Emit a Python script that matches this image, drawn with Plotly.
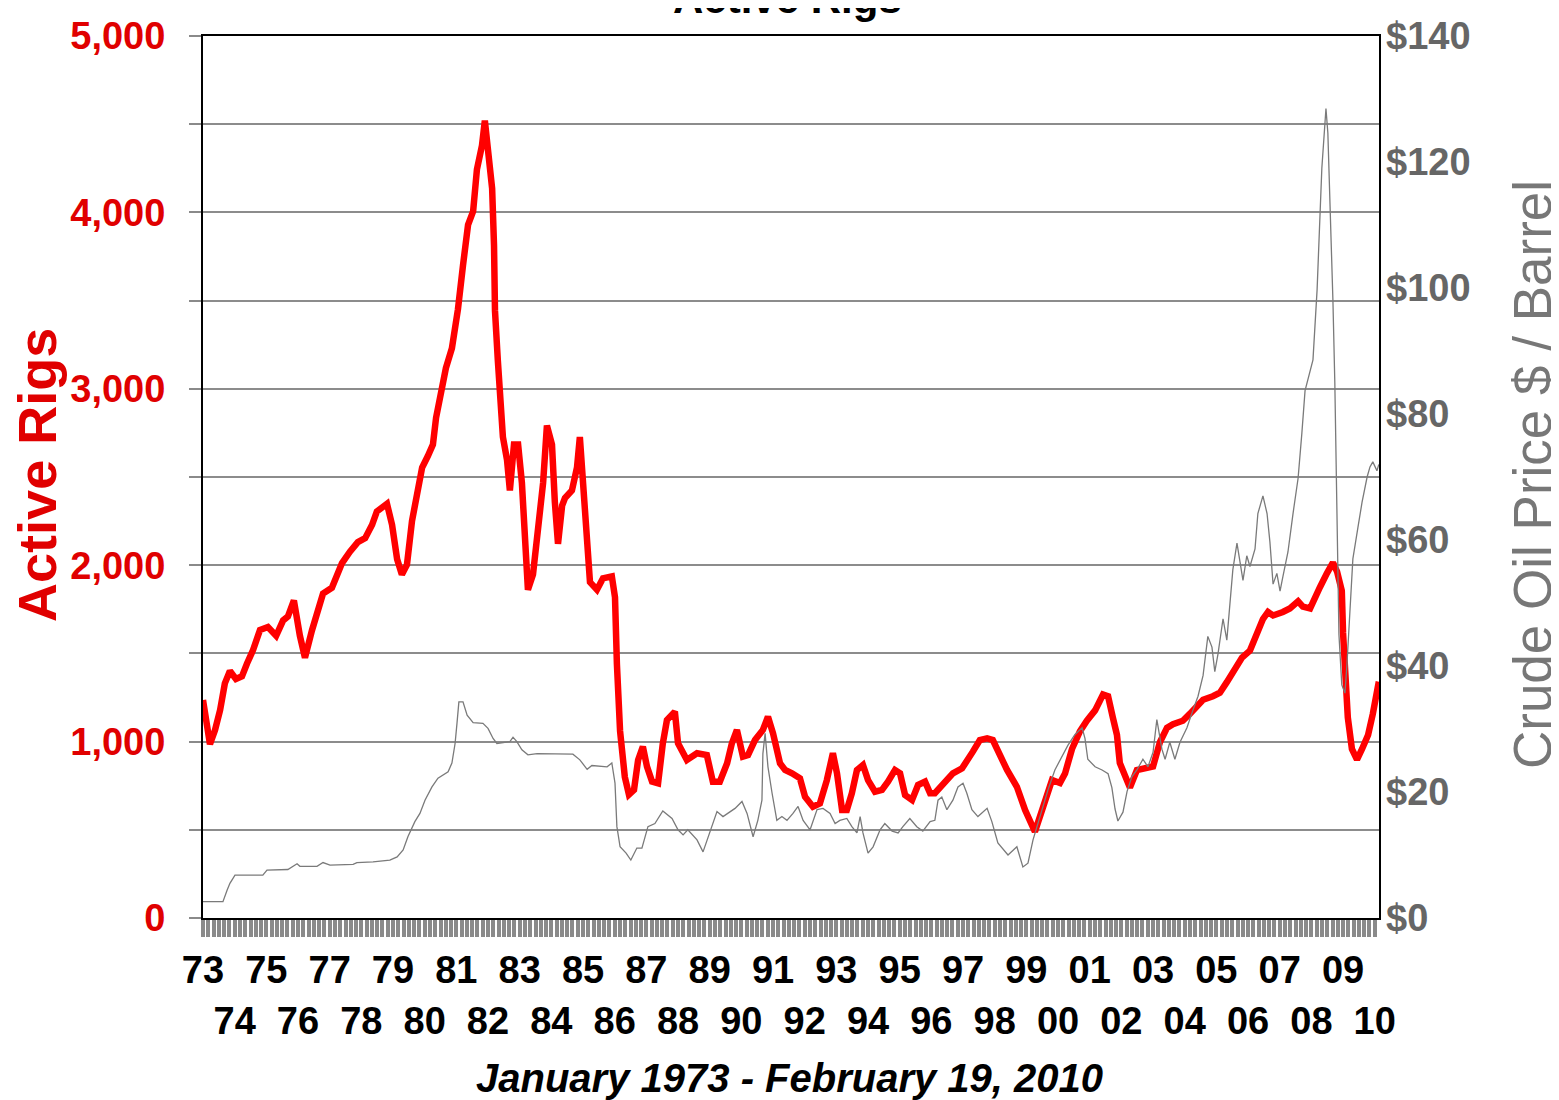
import plotly.graph_objects as go

# ---------------- data ----------------
# Active rigs (decimal year, count)
rig_years = [1973.00, 1973.22, 1973.38, 1973.54, 1973.69, 1973.85, 1974.04, 1974.23, 1974.39, 1974.58,
             1974.80, 1975.05, 1975.31, 1975.53, 1975.68, 1975.87, 1976.06, 1976.22, 1976.44, 1976.60,
             1976.79, 1977.07, 1977.26, 1977.39, 1977.64, 1977.89, 1978.12, 1978.34, 1978.49, 1978.81,
             1978.97, 1979.13, 1979.28, 1979.44, 1979.60, 1979.76, 1979.92, 1980.10, 1980.26, 1980.36,
             1980.55, 1980.67, 1980.86, 1981.05, 1981.21, 1981.37, 1981.53, 1981.65, 1981.81, 1981.90,
             1982.00, 1982.13, 1982.19, 1982.22, 1982.31, 1982.38, 1982.47, 1982.60, 1982.69, 1982.82,
             1982.95, 1983.07, 1983.17, 1983.26, 1983.42, 1983.58, 1983.74, 1983.86, 1984.02, 1984.11,
             1984.21, 1984.34, 1984.43, 1984.65, 1984.81, 1984.90, 1985.00, 1985.13, 1985.22, 1985.44,
             1985.63, 1985.91, 1986.01, 1986.07, 1986.17, 1986.32, 1986.45, 1986.61, 1986.74, 1986.89,
             1987.02, 1987.18, 1987.37, 1987.52, 1987.65, 1987.90, 1988.00, 1988.28, 1988.60, 1988.91,
             1989.10, 1989.32, 1989.55, 1989.70, 1989.86, 1990.05, 1990.21, 1990.43, 1990.68, 1990.84,
             1991.00, 1991.22, 1991.38, 1991.60, 1991.85, 1992.01, 1992.26, 1992.48, 1992.70, 1992.89,
             1993.02, 1993.18, 1993.33, 1993.49, 1993.65, 1993.84, 1994.00, 1994.22, 1994.44, 1994.63,
             1994.85, 1995.01, 1995.17, 1995.39, 1995.58, 1995.80, 1995.96, 1996.11, 1996.37, 1996.68,
             1996.97, 1997.16, 1997.31, 1997.53, 1997.76, 1997.94, 1998.17, 1998.39, 1998.70, 1998.96,
             1999.27, 1999.52, 1999.81, 2000.06, 2000.22, 2000.44, 2000.69, 2000.91, 2001.17, 2001.42,
             2001.58, 2001.73, 2001.86, 2001.95, 2002.18, 2002.27, 2002.49, 2002.81, 2003.00, 2003.22,
             2003.44, 2003.63, 2003.94, 2004.16, 2004.39, 2004.58, 2004.89, 2005.11, 2005.33, 2005.59,
             2005.81, 2006.06, 2006.28, 2006.47, 2006.63, 2006.79, 2007.10, 2007.32, 2007.58, 2007.73,
             2007.96, 2008.05, 2008.27, 2008.49, 2008.68, 2008.81, 2008.96, 2009.00, 2009.06, 2009.15,
             2009.28, 2009.44, 2009.60, 2009.79, 2009.94, 2010.13]
rig_counts = [1236, 985, 1066, 1179, 1330, 1400, 1355, 1370, 1443, 1519,
              1633, 1650, 1600, 1687, 1709, 1800, 1600, 1475, 1630, 1730,
              1839, 1872, 1947, 2012, 2077, 2131, 2153, 2229, 2305, 2348,
              2229, 2034, 1947, 2002, 2251, 2424, 2554, 2619, 2684, 2836,
              3031, 3117, 3230, 3450, 3700, 3930, 4006, 4244, 4380, 4520,
              4353, 4136, 3811, 3443, 3161, 2901, 2727, 2597, 2424, 2684,
              2684, 2467, 2034, 1861, 1947, 2207, 2467, 2792, 2684, 2359,
              2121, 2338, 2381, 2424, 2554, 2727, 2467, 2207, 1904, 1861,
              1926, 1937, 1818, 1440, 1060, 800, 700, 726, 896, 971,
              858, 773, 763, 990, 1122, 1170, 990, 896, 934, 924,
              773, 773, 877, 990, 1066, 915, 924, 1009, 1066, 1141,
              1047, 877, 839, 820, 792, 688, 631, 650, 782, 934,
              820, 612, 612, 707, 839, 867, 782, 716, 726, 773,
              839, 820, 697, 669, 754, 773, 707, 707, 754, 820,
              849, 896, 943, 1009, 1018, 1009, 915, 839, 744, 612,
              489, 631, 782, 765, 819, 958, 1058, 1118, 1177, 1267,
              1257, 1137, 1038, 879, 779, 739, 839, 849, 859, 998,
              1078, 1098, 1118, 1157, 1197, 1237, 1257, 1277, 1337, 1416,
              1476, 1516, 1616, 1695, 1735, 1715, 1735, 1755, 1795, 1765,
              1755, 1785, 1875, 1954, 2014, 1964, 1855, 1616, 1357, 1137,
              958, 898, 958, 1038, 1157, 1340]

# Crude oil price (decimal year, $ / barrel)
oil_years = [1973.00, 1973.63, 1973.76, 1973.85, 1974.01, 1974.89, 1975.02, 1975.68, 1975.97, 1976.06,
             1976.60, 1976.79, 1977.01, 1977.74, 1977.86, 1978.37, 1978.90, 1979.13, 1979.32, 1979.47,
             1979.69, 1979.85, 1980.01, 1980.23, 1980.42, 1980.74, 1980.86, 1980.96, 1981.02, 1981.08,
             1981.21, 1981.34, 1981.53, 1981.84, 1982.00, 1982.16, 1982.28, 1982.69, 1982.79, 1982.91,
             1983.07, 1983.26, 1983.55, 1984.68, 1984.90, 1985.13, 1985.28, 1985.76, 1985.91, 1986.01,
             1986.07, 1986.17, 1986.36, 1986.51, 1986.70, 1986.86, 1987.05, 1987.27, 1987.52, 1987.81,
             1988.00, 1988.16, 1988.31, 1988.60, 1988.79, 1989.01, 1989.23, 1989.42, 1989.58, 1989.80,
             1990.02, 1990.18, 1990.37, 1990.52, 1990.65, 1990.68, 1990.75, 1990.84, 1990.97, 1991.12,
             1991.28, 1991.44, 1991.63, 1991.79, 1991.95, 1992.17, 1992.39, 1992.58, 1992.80, 1992.96,
             1993.11, 1993.33, 1993.49, 1993.65, 1993.75, 1993.84, 1994.00, 1994.16, 1994.38, 1994.53,
             1994.76, 1994.95, 1995.10, 1995.32, 1995.54, 1995.73, 1995.96, 1996.11, 1996.21, 1996.33,
             1996.49, 1996.68, 1996.84, 1997.00, 1997.12, 1997.28, 1997.47, 1997.76, 1997.91, 1998.10,
             1998.42, 1998.70, 1998.89, 1999.05, 1999.21, 1999.43, 1999.68, 1999.90, 2000.12, 2000.31,
             2000.53, 2000.76, 2000.85, 2000.94, 2001.17, 2001.39, 2001.58, 2001.70, 2001.80, 2001.89,
             2002.05, 2002.18, 2002.33, 2002.49, 2002.68, 2002.84, 2003.00, 2003.12, 2003.28, 2003.38,
             2003.53, 2003.69, 2003.85, 2004.07, 2004.26, 2004.42, 2004.58, 2004.73, 2004.86, 2004.95,
             2005.05, 2005.21, 2005.33, 2005.43, 2005.52, 2005.65, 2005.74, 2005.84, 2005.96, 2006.06,
             2006.22, 2006.31, 2006.47, 2006.60, 2006.69, 2006.79, 2006.91, 2007.01, 2007.10, 2007.26,
             2007.42, 2007.58, 2007.70, 2007.80, 2008.05, 2008.18, 2008.33, 2008.46, 2008.52, 2008.59,
             2008.68, 2008.74, 2008.81, 2008.87, 2008.96, 2009.06, 2009.12, 2009.22, 2009.31, 2009.47,
             2009.60, 2009.76, 2009.85, 2009.94, 2010.07, 2010.13]
oil_prices = [2.6, 2.6, 4.4, 5.5, 6.8, 6.8, 7.6, 7.7, 8.6, 8.2,
              8.2, 8.8, 8.4, 8.5, 8.8, 8.9, 9.2, 9.7, 10.8, 12.9,
              15.3, 16.6, 18.7, 20.8, 22.2, 23.2, 24.6, 27.7, 30.9, 34.3,
              34.3, 32.2, 31.0, 30.9, 30.1, 28.5, 27.7, 28.0, 28.7, 28.0,
              26.7, 25.9, 26.1, 26.0, 25.1, 23.6, 24.2, 24.0, 24.6, 21.4,
              14.5, 11.3, 10.3, 9.2, 11.1, 11.1, 14.5, 15.0, 17.0, 15.8,
              14.0, 13.2, 14.0, 12.4, 10.5, 13.7, 16.9, 16.1, 16.6, 17.4,
              18.5, 16.6, 12.9, 15.5, 18.7, 26.1, 29.3, 24.0, 19.8, 15.5,
              16.1, 15.5, 16.6, 17.7, 15.5, 14.0, 17.2, 17.4, 16.6, 15.0,
              15.5, 15.8, 14.5, 13.5, 16.1, 13.5, 10.3, 11.3, 14.0, 15.0,
              13.8, 13.5, 14.5, 15.8, 14.5, 13.8, 15.3, 15.5, 18.7, 19.2,
              17.2, 18.7, 20.8, 21.4, 19.8, 17.2, 16.1, 17.4, 15.3, 11.9,
              10.0, 11.3, 8.1, 8.7, 12.4, 16.1, 20.3, 23.5, 25.6, 27.4,
              29.1, 30.2, 28.5, 25.2, 24.0, 23.5, 22.9, 20.7, 17.3, 15.4,
              16.8, 20.1, 22.4, 23.5, 25.2, 24.0, 26.3, 31.5, 26.8, 25.2,
              27.9, 25.2, 27.9, 30.2, 33.0, 35.2, 38.5, 44.7, 43.0, 39.1,
              41.9, 47.5, 44.1, 49.7, 55.3, 59.5, 57.0, 53.6, 57.5, 55.8,
              58.6, 64.2, 67.0, 64.2, 59.7, 53.0, 54.7, 51.9, 54.2, 58.1,
              64.2, 69.8, 77.0, 83.7, 88.6, 99.7, 119.0, 128.5, 124.6, 114.0,
              98.0, 85.0, 61.0, 45.0, 37.0, 35.7, 40.0, 48.0, 57.0, 62.0,
              66.0, 70.0, 71.6, 72.4, 71.0, 72.0]

odd_years = list(range(1973, 2011, 2))
odd_labels = ["%02d" % (y % 100) for y in odd_years]
even_years = list(range(1974, 2011, 2))
even_labels = ["%02d" % (y % 100) for y in even_years]

rig_ticks = [0, 500, 1000, 1500, 2000, 2500, 3000, 3500, 4000, 4500, 5000]
rig_labels = ["0", "", "1,000", "", "2,000", "", "3,000", "", "4,000", "", "5,000"]
price_ticks = [0, 20, 40, 60, 80, 100, 120, 140]
price_labels = ["$0", "$20", "$40", "$60", "$80", "$100", "$120", "$140"]

ARIAL = "Liberation Sans, Arial, sans-serif"
X_RANGE = [1973.0, 2010.135]

fig = go.Figure()
fig.add_trace(go.Scatter(x=rig_years, y=rig_counts, mode="lines", name="Active Rigs",
                         line=dict(color="#ff0000", width=6.5), xaxis="x", yaxis="y"))
fig.add_trace(go.Scatter(x=oil_years, y=oil_prices, mode="lines", name="Crude Oil Price",
                         line=dict(color="#7a7a7a", width=1.3), xaxis="x2", yaxis="y2"))

# page body has an 8px margin: compensate so the plot area lands at x 203-1379, y 36-918
fig.update_layout(
    width=1559, height=1100, autosize=False,
    margin=dict(l=195, r=188, t=28, b=190),
    paper_bgcolor="white", plot_bgcolor="white",
    showlegend=False,
    xaxis=dict(
        range=X_RANGE, tickmode="array", tickvals=odd_years, ticktext=odd_labels,
        ticks="outside", ticklen=17, tickwidth=3.5, tickcolor="#8a8a8a",
        minor=dict(dtick=1/6, tick0=1973, ticks="outside", ticklen=17, tickwidth=3.5,
                   tickcolor="#8a8a8a", showgrid=False),
        showgrid=False, zeroline=False, automargin=False,
        showline=True, linecolor="#000000", linewidth=2, mirror=True,
        tickfont=dict(family=ARIAL, size=38, color="#000000", weight="bold"),
        tickangle=0,
    ),
    xaxis2=dict(
        range=X_RANGE, overlaying="x", anchor="y", side="bottom",
        tickmode="array", tickvals=even_years, ticktext=even_labels,
        ticks="outside", ticklen=17, tickwidth=1, tickcolor="rgba(0,0,0,0)",
        ticklabelstandoff=52,
        showgrid=False, zeroline=False, showline=False, automargin=False,
        tickfont=dict(family=ARIAL, size=38, color="#000000", weight="bold"),
        tickangle=0,
    ),
    yaxis=dict(
        range=[0, 5000], tickmode="array", tickvals=rig_ticks, ticktext=rig_labels,
        ticks="outside", ticklen=12, tickwidth=2, tickcolor="#8a8a8a",
        ticklabelstandoff=16,
        showgrid=True, gridcolor="#8c8c8c", gridwidth=2, zeroline=False, automargin=False,
        showline=True, linecolor="#000000", linewidth=2, mirror=True,
        tickfont=dict(family=ARIAL, size=38, color="#e00000", weight="bold"),
    ),
    yaxis2=dict(
        range=[0, 140], overlaying="y", anchor="x2", side="right", tickmode="array",
        tickvals=price_ticks, ticktext=price_labels, ticks="",
        ticklabelstandoff=6,
        showgrid=False, zeroline=False, showline=False, automargin=False,
        tickfont=dict(family=ARIAL, size=38, color="#666666", weight="bold"),
    ),
    annotations=[
        dict(text="Active Rigs", xref="paper", yref="paper", x=-0.1412, y=0.5023,
             textangle=-90, showarrow=False, xanchor="center", yanchor="middle",
             font=dict(family=ARIAL, size=54, color="#e00000", weight="bold")),
        dict(text="Crude Oil Price $ / Barrel", xref="paper", yref="paper", x=1.1310, y=0.5023,
             textangle=-90, showarrow=False, xanchor="center", yanchor="middle",
             font=dict(family=ARIAL, size=53, color="#777777")),
        dict(text="<i>January 1973 - February 19, 2010</i>", xref="paper", yref="paper",
             x=0.499, y=-0.1814, showarrow=False, xanchor="center", yanchor="middle",
             font=dict(family=ARIAL, size=40, color="#000000", weight="bold")),
        dict(text="Active Rigs", xref="paper", yref="paper", x=0.497, y=1.042,
             showarrow=False, xanchor="center", yanchor="middle",
             font=dict(family=ARIAL, size=42, color="#000000", weight="bold")),
    ],
)

fig.write_html("out.html")
